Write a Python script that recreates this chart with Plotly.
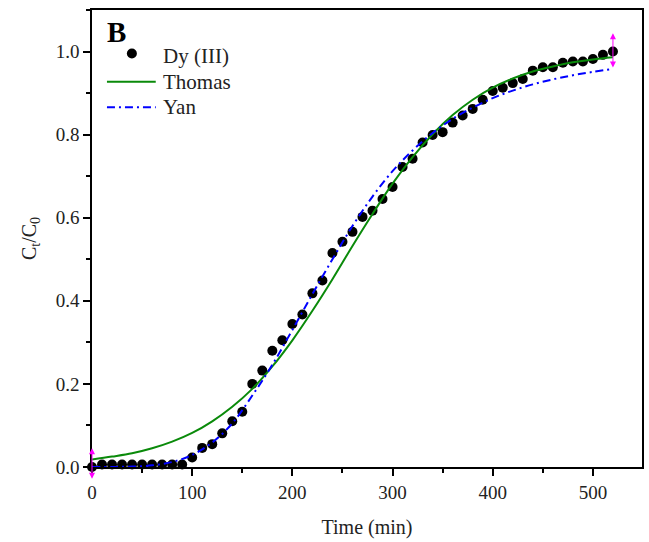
import plotly.graph_objects as go

# Experimental data: Dy(III) breakthrough
time_exp = [0, 10, 20, 30, 40, 50, 60, 70, 80, 90,
            100, 110, 120, 130, 140, 150, 160, 170, 180, 190,
            200, 210, 220, 230, 240, 250, 260, 270, 280, 290,
            300, 310, 320, 330, 340, 350, 360, 370, 380, 390,
            400, 410, 420, 430, 440, 450, 460, 470, 480, 490,
            500, 510, 520]
ct_c0_exp = [0.0, 0.006, 0.006, 0.006, 0.006, 0.006, 0.006, 0.006, 0.006, 0.006,
             0.023, 0.046, 0.055, 0.081, 0.110, 0.133, 0.200, 0.232, 0.280, 0.305,
             0.344, 0.367, 0.418, 0.449, 0.515, 0.542, 0.566, 0.602, 0.617, 0.645,
             0.674, 0.722, 0.742, 0.781, 0.799, 0.806, 0.829, 0.846, 0.862, 0.884,
             0.905, 0.913, 0.924, 0.934, 0.954, 0.962, 0.962, 0.973, 0.976, 0.976,
             0.982, 0.992, 1.000]

# Model curves
time_fit = [0, 20, 40, 60, 80, 100, 120, 140, 160, 180, 200, 220, 240, 260,
            280, 300, 320, 340, 360, 380, 400, 420, 440, 460, 480, 500, 520]
thomas = [0.018, 0.025, 0.033, 0.045, 0.061, 0.082, 0.110, 0.145, 0.188, 0.242,
          0.305, 0.376, 0.452, 0.532, 0.609, 0.682, 0.746, 0.801, 0.847, 0.884,
          0.913, 0.935, 0.952, 0.964, 0.974, 0.981, 0.986]
yan = [0.0, 0.0, 0.001, 0.004, 0.012, 0.029, 0.059, 0.105, 0.172, 0.246,
       0.330, 0.416, 0.500, 0.580, 0.651, 0.712, 0.762, 0.804, 0.838, 0.865,
       0.888, 0.906, 0.921, 0.933, 0.943, 0.951, 0.958]

# Data-reader cursor extents (y top / y bottom) at first and last points
cursor_top = [0.045, 1.044]
cursor_bottom = [-0.032, 0.958]

series_names = ["Dy (III)", "Thomas", "Yan"]
panel_label = "B"

FONT = "Liberation Serif, Times New Roman, serif"
GREEN = "#0a8a0a"
BLUE = "#0000ff"
MAGENTA = "#ff00ff"
YAN_DASH = "8px,4px,2px,4px"

fig = go.Figure()
fig.add_trace(go.Scatter(
    x=time_exp, y=ct_c0_exp, mode="markers", name=series_names[0],
    marker=dict(color="black", size=10, symbol="circle"), cliponaxis=False,
    showlegend=False))
fig.add_trace(go.Scatter(
    x=time_fit, y=thomas, mode="lines", name=series_names[1], line_shape="spline",
    line=dict(color=GREEN, width=2), showlegend=False))
fig.add_trace(go.Scatter(
    x=time_fit, y=yan, mode="lines", name=series_names[2], line_shape="spline",
    line=dict(color=BLUE, width=2, dash=YAN_DASH), showlegend=False))

# magenta cursor markers at first and last data points (double-headed arrows)
cursor_x = [time_exp[0], time_exp[-1]]
for xa, yt, yb in zip(cursor_x, cursor_top, cursor_bottom):
    fig.add_annotation(x=xa, y=yt, ax=xa, ay=yb, xref="x", yref="y",
                       axref="x", ayref="y", showarrow=True, arrowhead=2,
                       arrowsize=1.2, arrowwidth=1, arrowcolor=MAGENTA,
                       arrowside="end+start", text="")

# Panel label
fig.add_annotation(x=0.045, y=0.9525, xref="paper", yref="paper", text="<b>%s</b>" % panel_label,
                   showarrow=False, font=dict(size=29, color="black", family=FONT),
                   xanchor="center", yanchor="middle")

# Custom legend (Origin style, longer line samples)
leg_x0, leg_x1, leg_xm, leg_tx = 0.0272, 0.1159, 0.0725, 0.125
leg_y = [0.9000, 0.8432, 0.7870]
fig.add_shape(type="circle", xref="paper", yref="paper", xsizemode="pixel", ysizemode="pixel",
              xanchor=leg_xm, yanchor=leg_y[0] + 0.005, x0=-5, x1=5, y0=-5, y1=5,
              fillcolor="black", line=dict(color="black", width=0))
fig.add_shape(type="line", xref="paper", yref="paper", x0=leg_x0, x1=leg_x1,
              y0=leg_y[1], y1=leg_y[1], line=dict(color=GREEN, width=2))
fig.add_shape(type="line", xref="paper", yref="paper", x0=leg_x0, x1=leg_x1,
              y0=leg_y[2], y1=leg_y[2], line=dict(color=BLUE, width=2, dash=YAN_DASH))
for name, yy in zip(series_names, leg_y):
    fig.add_annotation(x=leg_tx, y=yy, xref="paper", yref="paper", text=name,
                       showarrow=False, xanchor="left", yanchor="middle",
                       font=dict(size=21, color="#222", family=FONT))

axis_common = dict(
    showline=True, linecolor="black", linewidth=1.5, mirror=True,
    ticks="outside", ticklen=7, tickwidth=1.5, tickcolor="black",
    showgrid=False, zeroline=False,
    tickfont=dict(size=19, color="#222", family=FONT),
)

fig.update_xaxes(range=[0, 549], tick0=0, dtick=100,
                 minor=dict(ticks="outside", ticklen=4, tickwidth=1.5, dtick=50, tickcolor="black"),
                 title=dict(text="Time (min)", font=dict(size=20, color="#222", family=FONT), standoff=18),
                 **axis_common)
fig.update_yaxes(range=[0, 1.1], tick0=0, dtick=0.2, tickformat=".1f",
                 minor=dict(ticks="outside", ticklen=4, tickwidth=1.5, dtick=0.1, tickcolor="black"),
                 title=dict(text="C<sub>t</sub>/C<sub>0</sub>", font=dict(size=20, color="#222", family=FONT), standoff=14),
                 **axis_common)

fig.update_layout(
    width=649, height=542,
    margin=dict(l=92, r=5, t=10, b=75),
    paper_bgcolor="white", plot_bgcolor="white",
    font=dict(family=FONT, color="#222"),
    showlegend=False,
)

fig.write_html("out.html")
